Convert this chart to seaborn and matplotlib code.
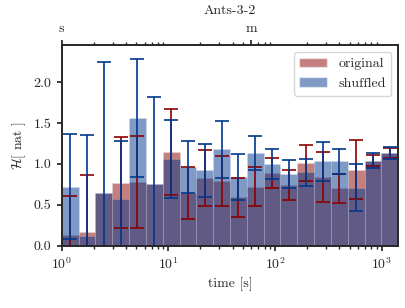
import numpy as np
import seaborn as sns
import matplotlib.pyplot as plt
from matplotlib.patches import Patch
from matplotlib import ticker

# entropie par classe de durée (20 classes log), original vs shuffled
log_edges = list(np.linspace(0, 3.156, 21))
centres = 10 ** ((np.array(log_edges[:-1]) + np.array(log_edges[1:])) / 2)

original = [0.13, 0.17, 0.65, 0.77, 0.78, 0.76, 1.15, 0.65, 0.83, 0.79,
            0.59, 0.72, 0.89, 0.74, 1.01, 0.84, 0.70, 0.93, 1.04, 1.13]
original_err = [0.48, 0.70, np.nan, 0.555, 0.565, np.nan, 0.525, 0.318, 0.343, 0.31,
                0.24, 0.24, 0.18, 0.18, 0.22, 0.30, 0.18, 0.36, 0.07, 0.06]
shuffled = [0.72, 0.12, 0.65, 0.57, 1.56, 0.76, 1.06, 0.96, 0.92, 1.18,
            0.84, 1.13, 1.00, 0.88, 0.895, 1.03, 1.035, 0.71, 1.04, 1.135]
shuffled_err = [0.64, 1.23, 1.59, 0.715, 0.72, 1.055, 0.474, 0.316, 0.321, 0.35,
                0.28, 0.21, 0.182, 0.17, 0.17, 0.24, 0.153, 0.288, 0.096, 0.075]

top_ticks = [1, 60]
top_labels = ['s', 'm']

c_orig = '#8b0000'
c_shuf = '#00378c'
fs = 10

sns.set_theme(style='ticks')
plt.rcParams['font.family'] = ['cmr10', 'DejaVu Serif']
plt.rcParams['mathtext.fontset'] = 'cm'
plt.rcParams['axes.formatter.use_mathtext'] = True
plt.rcParams['axes.unicode_minus'] = False
plt.rcParams['font.size'] = fs
plt.rcParams['axes.linewidth'] = 1.2
for a in ['xtick', 'ytick']:
    plt.rcParams[a + '.major.size'] = 3.5
    plt.rcParams[a + '.minor.size'] = 2
    plt.rcParams[a + '.major.pad'] = 4

fig = plt.figure(figsize=(4.06, 3.08), dpi=100)
ax = fig.add_axes([0.152, 0.2023, 0.829, 0.6507])

sns.histplot(x=centres, weights=original, bins=log_edges, log_scale=True,
             color=c_orig, alpha=0.5, edgecolor=(1, 1, 1, 0.2), linewidth=0.5, ax=ax)
sns.histplot(x=centres, weights=shuffled, bins=log_edges, log_scale=True,
             color=c_shuf, alpha=0.5, edgecolor=(1, 1, 1, 0.2), linewidth=0.5, ax=ax)

ax.errorbar(centres, original, yerr=original_err, fmt='none', ecolor=c_orig,
            elinewidth=1.2, capsize=4.7, capthick=1.2)
ax.errorbar(centres, shuffled, yerr=shuffled_err, fmt='none', ecolor=c_shuf,
            elinewidth=1.2, capsize=4.7, capthick=1.2)

ax.set_xlim(1, 10 ** 3.156)
ax.set_ylim(0, 2.45)
ax.set_yticks([0.0, 0.5, 1.0, 1.5, 2.0])
ax.yaxis.set_major_formatter(ticker.StrMethodFormatter('{x:.1f}'))
ax.set_xlabel('time [s]', fontsize=fs)
ax.set_ylabel(r'$\mathcal{H}$[ nat ]', fontsize=fs)
ax.tick_params(labelsize=fs)

# axe du haut : s / m
ax2 = ax.twiny()
ax2.set_xscale('log')
ax2.set_xlim(ax.get_xlim())
ax2.set_xticks(top_ticks)
ax2.set_xticklabels(top_labels)
ax2.xaxis.set_minor_formatter(ticker.NullFormatter())
ax2.tick_params(labelsize=fs, pad=4)

ax.set_title('Ants-3-2', fontsize=fs, pad=6)

handles = [Patch(facecolor=c_orig, alpha=0.5), Patch(facecolor=c_shuf, alpha=0.5)]
ax.legend(handles=handles, labels=['original', 'shuffled'], loc='upper right', fontsize=fs)

fig.savefig('out.png', dpi=100)
